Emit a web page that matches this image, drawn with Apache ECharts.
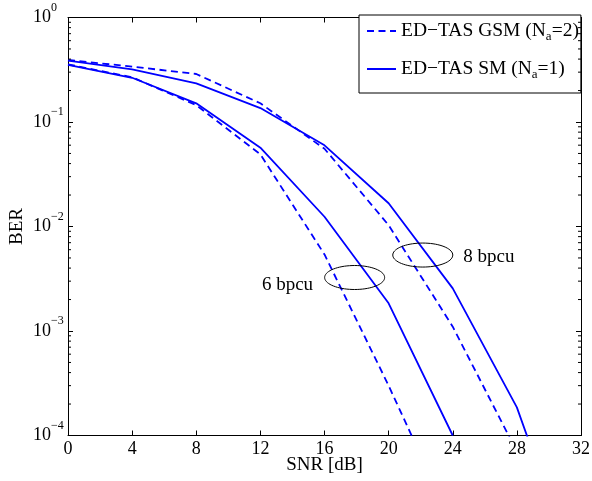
<!DOCTYPE html>
<html>
<head>
<meta charset="utf-8">
<script src="https://cdn.jsdelivr.net/npm/echarts@6/dist/echarts.min.js"></script>
<style>
html,body{margin:0;padding:0;background:#fff;}
#chart{width:592px;height:481px;}
</style>
</head>
<body>
<div id="chart"></div>
<script>
// ---- data ----
const snr = [0, 4, 8, 12, 16, 20, 24, 28, 32];
const gsm6 = [0.356, 0.268, 0.145, 0.049, 0.0054, 3.0e-4, 1.4e-5];
const sm6 = [0.353, 0.265, 0.151, 0.0568, 0.0124, 1.84e-3, 1.0e-4];
const gsm8 = [0.392, 0.339, 0.288, 0.151, 0.0555, 0.0103, 1.1e-3, 7e-5];
const sm8 = [0.386, 0.319, 0.234, 0.136, 0.0598, 0.0167, 2.56e-3, 1.86e-4, 3.5e-6];
const xTicks = [0, 4, 8, 12, 16, 20, 24, 28, 32];
const yDecades = [-4, -3, -2, -1, 0];
const ellipseCenters = [[17.88, 3.25e-3], [22.13, 5.33e-3]];
const bpcuTexts = ['6 bpcu', '8 bpcu'];
const bpcuAnchors = [[15.29, 2.75e-3], [24.66, 5.14e-3]];

const gsmName = 'ED−TAS GSM (Na=2)';
const smName = 'ED−TAS SM (Na=1)';
const legendRich = {};
legendRich[gsmName] = 'ED−TAS GSM (N{s|a}=2)';
legendRich[smName] = 'ED−TAS SM (N{s|a}=1)';

const FF = '"Liberation Serif", "Times New Roman", serif';
const BLUE = '#0000ff';

function pairs(vals) { return vals.map((v, i) => [snr[i], v]); }

// minor log ticks 2..9 within each decade
const minorTicks = [];
for (let k = -4; k < 0; k++) {
  for (let m = 2; m <= 9; m++) minorTicks.push([0, m * Math.pow(10, k)]);
}

function lineSeries(name, vals, dashed) {
  return {
    name: name, type: 'line', data: pairs(vals),
    xAxisIndex: 0, yAxisIndex: 0,
    symbol: 'none', showSymbol: false, clip: true, smooth: false,
    lineStyle: { color: BLUE, width: 1.8, type: dashed ? [7, 4.5] : 'solid' },
    itemStyle: { color: BLUE },
    z: 3
  };
}

const chart = echarts.init(document.getElementById('chart'), null, { renderer: 'canvas' });

const axisLineStyle = { show: true, onZero: false, lineStyle: { color: '#000', width: 1 } };

const option = {
  animation: false,
  backgroundColor: '#fff',
  grid: { left: 68, right: 11, top: 17.5, bottom: 45.5, containLabel: false, outerBoundsMode: 'none' },
  xAxis: [
    {
      type: 'value', min: 0, max: 32, interval: 4, position: 'bottom',
      axisLine: axisLineStyle,
      axisTick: { show: true, inside: true, length: 5, lineStyle: { color: '#000' } },
      axisLabel: { color: '#000', fontSize: 18, fontFamily: FF, margin: 5,
        formatter: v => (xTicks.indexOf(v) >= 0 ? String(v) : '') },
      splitLine: { show: false },
      name: 'SNR [dB]', nameLocation: 'middle', nameGap: 20, nameMoveOverlap: false,
      nameTextStyle: { color: '#000', fontSize: 19, fontFamily: FF }
    },
    {
      type: 'value', min: 0, max: 32, interval: 4, position: 'top',
      axisLine: axisLineStyle,
      axisTick: { show: true, inside: true, length: 5, lineStyle: { color: '#000' } },
      axisLabel: { show: false }, splitLine: { show: false }
    }
  ],
  yAxis: [
    {
      type: 'log', logBase: 10, min: 1e-4, max: 1, position: 'left',
      axisLine: axisLineStyle,
      axisTick: { show: true, inside: true, length: 5, lineStyle: { color: '#000' } },
      axisLabel: {
        color: '#000', fontFamily: FF, margin: 35, align: 'left',
        formatter: function (v) {
          const e = Math.round(Math.log10(v));
          if (yDecades.indexOf(e) < 0) return '';
          const es = e < 0 ? '−' + Math.abs(e) : String(e);
          return '{b|10}{e|' + es + '}';
        },
        rich: {
          b: { fontSize: 18, fontFamily: FF, color: '#000', lineHeight: 32, verticalAlign: 'middle' },
          e: { fontSize: 12, fontFamily: FF, color: '#000', lineHeight: 12, verticalAlign: 'top' }
        }
      },
      splitLine: { show: false },
      name: 'BER', nameLocation: 'middle', nameGap: 41, nameMoveOverlap: false,
      nameTextStyle: { color: '#000', fontSize: 19, fontFamily: FF }
    },
    {
      type: 'log', logBase: 10, min: 1e-4, max: 1, position: 'right',
      axisLine: axisLineStyle,
      axisTick: { show: true, inside: true, length: 5, lineStyle: { color: '#000' } },
      axisLabel: { show: false }, splitLine: { show: false }
    }
  ],
  legend: {
    data: [gsmName, smName],
    orient: 'vertical', left: 359, top: 15,
    itemWidth: 29, itemHeight: 14, itemGap: 14,
    padding: [4, 2, 12, 7],
    borderColor: '#000', borderWidth: 1, backgroundColor: '#fff',
    selectedMode: false,
    itemStyle: { opacity: 0, borderWidth: 0 },
    formatter: name => legendRich[name],
    textStyle: {
      color: '#000', fontSize: 19.5, fontFamily: FF, lineHeight: 24, padding: [0, 0, 0, 0],
      rich: { s: { fontSize: 13, fontFamily: FF, color: '#000', lineHeight: 13, verticalAlign: 'bottom' } }
    }
  },
  series: [
    lineSeries(gsmName, gsm6, true),
    lineSeries(gsmName, gsm8, true),
    lineSeries(smName, sm6, false),
    lineSeries(smName, sm8, false),
    {
      type: 'custom', name: 'minorTicks', coordinateSystem: 'cartesian2d',
      xAxisIndex: 0, yAxisIndex: 0, silent: true, z: 5,
      data: minorTicks,
      renderItem: function (params, api) {
        const pl = api.coord([0, api.value(1)]);
        const pr = api.coord([32, api.value(1)]);
        return { type: 'group', children: [
          { type: 'line', shape: { x1: pl[0], y1: pl[1], x2: pl[0] + 3, y2: pl[1] }, style: { stroke: '#000', lineWidth: 1 } },
          { type: 'line', shape: { x1: pr[0] - 3, y1: pr[1], x2: pr[0], y2: pr[1] }, style: { stroke: '#000', lineWidth: 1 } }
        ] };
      }
    },
    {
      type: 'custom', name: 'ellipses', coordinateSystem: 'cartesian2d',
      xAxisIndex: 0, yAxisIndex: 0, silent: true, z: 4,
      data: ellipseCenters,
      renderItem: function (params, api) {
        const c = api.coord([api.value(0), api.value(1)]);
        const rx = 30, ry = 12, pts = [];
        for (let i = 0; i <= 72; i++) {
          const t = i / 72 * Math.PI * 2;
          pts.push([c[0] + rx * Math.cos(t), c[1] + ry * Math.sin(t)]);
        }
        return { type: 'polyline', shape: { points: pts }, style: { stroke: '#000', lineWidth: 1, fill: null } };
      }
    },
    {
      type: 'custom', name: 'bpcu', coordinateSystem: 'cartesian2d',
      xAxisIndex: 0, yAxisIndex: 0, silent: true, z: 4,
      data: bpcuAnchors,
      renderItem: function (params, api) {
        const c = api.coord([api.value(0), api.value(1)]);
        const i = params.dataIndex;
        const al = i === 0 ? 'right' : 'left';
        return { type: 'text', x: c[0], y: c[1], style: {
          text: bpcuTexts[i], fill: '#000', font: '19px ' + FF,
          align: al, textAlign: al, verticalAlign: 'middle', textVerticalAlign: 'middle'
        } };
      }
    }
  ]
};

chart.setOption(option);
</script>
</body>
</html>
